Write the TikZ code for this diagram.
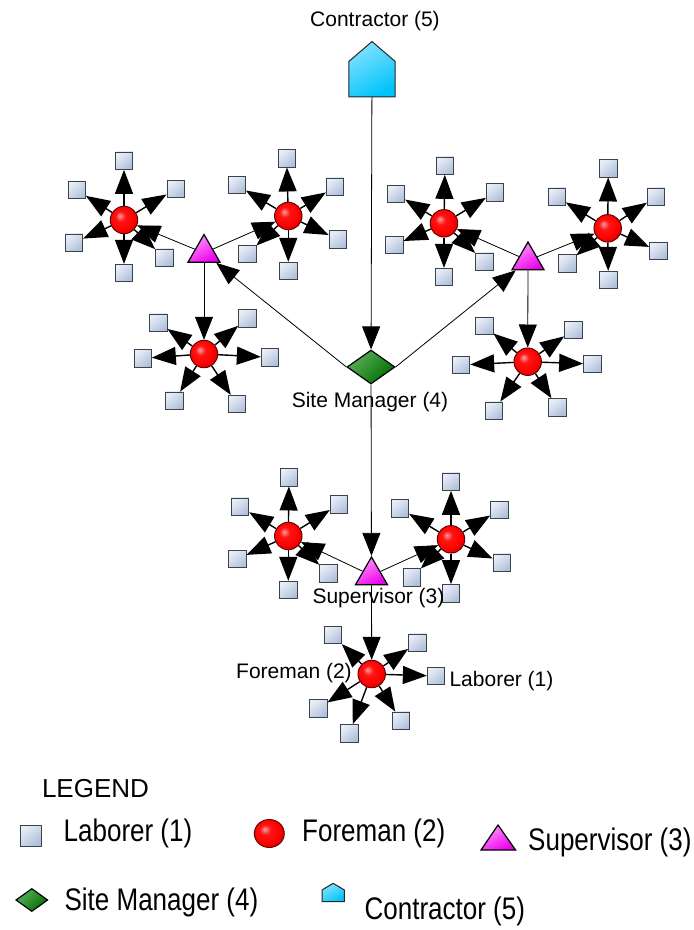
\documentclass[tikz,border=0pt]{standalone}
\usepackage{fontspec}
\usepackage{graphicx}
\setmainfont{Liberation Sans}
\usetikzlibrary{arrows.meta,shapes.geometric}

\definecolor{labhi}{RGB}{232,238,247}
\definecolor{lablo}{RGB}{176,192,218}
\definecolor{labedge}{RGB}{60,66,76}
\definecolor{foreedge}{RGB}{90,0,0}
\definecolor{maghi}{RGB}{255,150,255}
\definecolor{maglo}{RGB}{235,0,235}
\definecolor{grnhi}{RGB}{90,175,90}
\definecolor{grnlo}{RGB}{0,110,0}
\definecolor{cyanhi}{RGB}{130,225,255}
\definecolor{cyanlo}{RGB}{0,196,250}

% glossy red ball for the foremen
\pgfdeclareradialshading{redglow}{\pgfpoint{-8bp}{8bp}}{%
  color(0bp)=(red!38!white); color(9bp)=(red!92!white);
  color(22bp)=(red); color(34bp)=(red!78!black); color(50bp)=(red!78!black)}

\tikzset{
  lab/.style={rectangle, draw=labedge, line width=0.8pt, minimum width=17.5pt,
    minimum height=17.5pt, inner sep=0pt, top color=labhi, bottom color=lablo,
    shading angle=40},
  fore/.style={circle, draw=foreedge, line width=0.9pt, minimum size=27.5pt,
    inner sep=0pt, shade, shading=redglow},
  sup/.style={regular polygon, regular polygon sides=3, minimum size=37pt,
    inner sep=0pt, draw=black, line width=1.2pt, top color=maghi,
    bottom color=maglo, shading angle=30},
  mgr/.style={diamond, minimum width=48pt, minimum height=34pt, inner sep=0pt,
    draw=black, line width=1.2pt, top color=grnhi, bottom color=grnlo,
    shading angle=45},
  house/.style={draw=black!85, line width=1pt, top color=cyanhi,
    bottom color=cyanlo, shading angle=30, line join=miter},
  link/.style={-{Triangle[length=23pt,width=18pt]}, line width=0.8pt},
  spoke/.style={-{Triangle[length=24pt,width=18pt]}, line width=1.4pt},
  lbl/.style={font=\fontsize{21}{25}\selectfont, inner sep=0pt, anchor=base},
  keytext/.style={font=\fontsize{26}{30}\selectfont, inner sep=0pt, anchor=base west},
}

% a foreman with its six laborers
\newcommand\crew[2]{%
  \foreach \p [count=\i] in {#2} {
    \node[lab] (#1-\i) at \p {};
    \draw[spoke] (#1) -- (#1-\i);
  }}

\begin{document}
\begin{tikzpicture}[x=1pt,y=-1pt]
\useasboundingbox (0,0) rectangle (694,930);

% contractor
\node[minimum width=46pt, minimum height=55pt, inner sep=0pt] (con) at (372,69.2) {};
\path[house] (con.south west) -- (con.south east) -- ([yshift=-20pt]con.north east)
  -- (con.north) -- ([yshift=-20pt]con.north west) -- cycle;
\node[lbl] (conlbl) at (375,26) {Contractor (5)};

% site manager and supervisors
\node[mgr] (sm) at (371,367) {};
\node[sup] (supL) at (204,253) {};
\node[sup] (supR) at (528,260.5) {};
\node[sup] (supB) at (371.5,575.5) {};

% foremen
\node[fore] (f1) at (124,220) {};
\node[fore] (f2) at (288.3,216) {};
\node[fore] (f3) at (204,354) {};
\node[fore] (f4) at (444,223.3) {};
\node[fore] (f5) at (607.7,228.3) {};
\node[fore] (f6) at (527.7,361.7) {};
\node[fore] (f7) at (288.3,536) {};
\node[fore] (f8) at (451,539.3) {};
\node[fore] (f9) at (371.7,674) {};

% laborers
\crew{f1}{(124,160.7),(175.7,189),(76.7,190),(74,242.7),(124,273),(164.3,257.7)}
\crew{f2}{(286.7,158.3),(335,186.7),(236.7,185),(337.7,239.3),(247.3,254),(288.3,271)}
\crew{f3}{(158.3,322.7),(247.3,318.3),(142.7,358.3),(270,357.3),(174.3,400.7),(236.7,404)}
\crew{f4}{(445,165.7),(495,192.3),(396,194),(394.3,245),(484.3,261.7),(444,277)}
\crew{f5}{(608.3,168.3),(656,196.7),(556.7,196.7),(658.3,251),(567.3,263.3),(608.3,280)}
\crew{f6}{(484.3,326),(573.3,330),(461,365),(592.3,364),(494,410.7),(557.3,407.3)}
\crew{f7}{(289,477.3),(339,504.3),(240,506.7),(237.3,559),(328.3,573.3),(288.3,590)}
\crew{f8}{(451,481.7),(499.3,510),(400,508.3),(501.7,562.7),(411.7,577.3),(451,593.3)}
\crew{f9}{(332.7,635),(417.3,642.7),(436,676),(318.3,708.3),(349.3,733.3),(401,720.7)}

% chain of command
\draw[link] (con) -- (sm);
\draw[link] (sm.west) -- (supL);
\draw[link] (sm.east) -- (supR);
\draw[link] (sm) -- (supB);
\draw[link] (supL) -- (f1);
\draw[link] (supL) -- (f2);
\draw[link] (supL) -- (f3);
\draw[link] (supR) -- (f4);
\draw[link] (supR) -- (f5);
\draw[link] (supR) -- (f6);
\draw[link] (supB) -- (f7);
\draw[link] (supB) -- (f8);
\draw[link] (supB) -- (f9);

% labels
\node[lbl] (smlbl) at (370,407) {Site Manager (4)};
\node[lbl] (suplbl) at (378.5,603) {Supervisor (3)};
\node[lbl] (forelbl) at (294,678) {Foreman (2)};
\node[lbl] (lablbl) at (501.5,686.7) {Laborer (1)};

% legend
\node[font=\fontsize{26}{30}\selectfont, inner sep=0pt, anchor=base] (legend) at (95.5,797) {LEGEND};

\node[lab, minimum width=21pt, minimum height=21pt] (keyLab) at (30.4,835.5) {};
\node[keytext] (keyLabT) at (63.5,841) {\scalebox{1}[1.2]{Laborer (1)}};

\node[ellipse, draw=foreedge, line width=0.9pt, minimum width=30pt, minimum height=28pt,
  inner sep=0pt, shade, shading=redglow] (keyFore) at (269.3,833.5) {};
\node[keytext] (keyForeT) at (302,841) {\scalebox{1}[1.2]{Foreman (2)}};

\path[draw=black, line width=1.2pt, top color=maghi, bottom color=maglo, shading angle=30,
  line join=miter] (498,825) -- (515.6,850) -- (481,850) -- cycle;
\node[keytext] (keySupT) at (528,850) {\scalebox{1}[1.2]{Supervisor (3)}};

\node[mgr, minimum width=32pt, minimum height=23pt] (keyMgr) at (31.8,900) {};
\node[keytext] (keyMgrT) at (64.4,910) {\scalebox{1}[1.2]{Site Manager (4)}};

\path[house] (322,901.7) -- (344.4,901.7) -- (344.4,890) -- (333.2,883.3) -- (322,890) -- cycle;
\node[keytext] (keyConT) at (364.4,919) {\scalebox{1}[1.2]{Contractor (5)}};
\end{tikzpicture}
\end{document}
